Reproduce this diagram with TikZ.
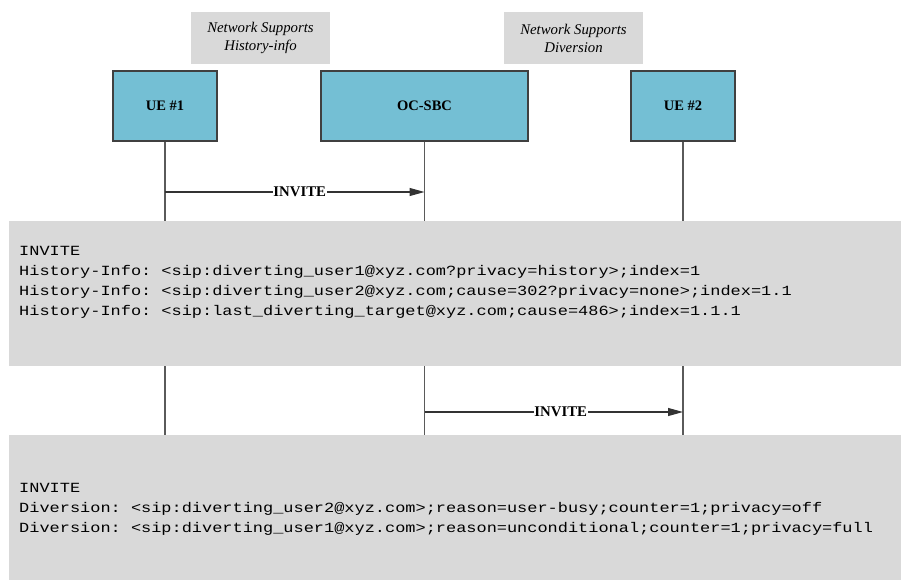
\documentclass[tikz,border=0pt]{standalone}
\usepackage{fontspec}
\setmainfont{Liberation Serif}
\newfontfamily\codefont[FakeStretch=1.21]{Liberation Mono}
\usetikzlibrary{arrows.meta}
\definecolor{boxteal}{RGB}{116,191,212}
\definecolor{notegray}{RGB}{217,217,217}
\definecolor{linegray}{RGB}{90,90,90}
\frenchspacing
\begin{document}
\begin{tikzpicture}[x=1pt,y=-1pt,
  entity/.style={draw=black!75, line width=1.3pt, fill=boxteal, minimum height=70pt, inner sep=0pt,
    font=\fontsize{14.5}{17}\selectfont\bfseries},
  note/.style={fill=notegray, minimum width=139pt, minimum height=52pt, inner sep=0pt, align=center,
    font=\fontsize{14.8}{18}\selectfont\itshape},
  panel/.style={fill=notegray, anchor=north west, minimum width=892pt, minimum height=145pt, inner sep=0pt},
  lifeline/.style={draw=linegray, line width=1.2pt},
  msg/.style={draw=black!80, line width=1.1pt, -{Triangle[length=15pt,width=8pt]}},
  msglabel/.style={fill=white, inner sep=0.5pt, font=\fontsize{14.8}{17}\selectfont\bfseries},
  code/.style={anchor=base west, inner sep=0pt, font=\codefont\fontsize{14}{20}\selectfont\frenchspacing}]
\useasboundingbox (0,0) rectangle (901,580);

% participants
\node[entity, minimum width=104pt] (ue1) at (165,106) {UE \#1};
\node[entity, minimum width=207pt] (sbc) at (424.5,106) {OC-SBC};
\node[entity, minimum width=104pt] (ue2) at (683,106) {UE \#2};

% notes
\node[note] (n1) at (260.5,38) {Network Supports\\History-info};
\node[note] (n2) at (573.5,38) {Network Supports\\Diversion};

% lifelines
\coordinate (bot) at (0,435);
\draw[lifeline] (ue1.south) -- (ue1.south |- bot);
\draw[lifeline] (sbc.south) -- (sbc.south |- bot);
\draw[lifeline] (ue2.south) -- (ue2.south |- bot);

% messages
\coordinate (m1) at (0,192);
\coordinate (m2) at (0,412);
\draw[msg] (ue1.south |- m1) -- node[msglabel, xshift=5pt] (l1) {INVITE} (sbc.south |- m1);
\draw[msg] (sbc.south |- m2) -- node[msglabel, xshift=7pt] (l2) {INVITE} (ue2.south |- m2);

% panels
\node[panel] (p1) at (9,221) {};
\node[panel] (p2) at (9,435) {};

\node[code] (h0) at (19,255) {INVITE};
\node[code] (h1) at (19,275) {History-Info: <sip:diverting\_user1@xyz.com?privacy=history>;index=1};
\node[code] (h2) at (19,295) {History-Info: <sip:diverting\_user2@xyz.com;cause=302?privacy=none>;index=1.1};
\node[code] (h3) at (19,315) {History-Info: <sip:last\_diverting\_target@xyz.com;cause=486>;index=1.1.1};

\node[code] (d0) at (19,492) {INVITE};
\node[code] (d1) at (19,512) {Diversion: <sip:diverting\_user2@xyz.com>;reason=user-busy;counter=1;privacy=off};
\node[code] (d2) at (19,532) {Diversion: <sip:diverting\_user1@xyz.com>;reason=unconditional;counter=1;privacy=full};
\end{tikzpicture}
\end{document}
